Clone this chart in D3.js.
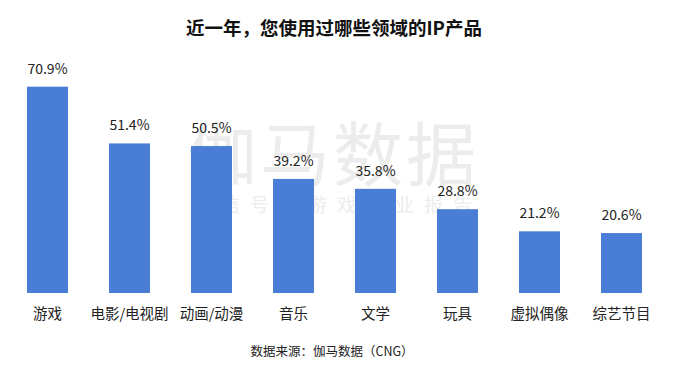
<!DOCTYPE html>
<html><head><meta charset="utf-8">
<script src="https://cdn.jsdelivr.net/npm/d3@7"></script>
<style>html,body{margin:0;padding:0;background:#fff;}svg{display:block;}</style>
</head><body>
<svg id="chart" width="678" height="367"></svg>
<script>
const categories = ["游戏","电影/电视剧","动画/动漫","音乐","文学","玩具","虚拟偶像","综艺节目"];
const values = [70.9, 51.4, 50.5, 39.2, 35.8, 28.8, 21.2, 20.6];
const titleText = "近一年，您使用过哪些领域的IP产品";
const sourceText = "数据来源：伽马数据（CNG）";
const watermarkMain = "伽马数据";
const watermarkSub = "微信号：游戏产业报告";

const svg = d3.select("#chart");
const W = 678, H = 367;
const font = "'Noto Sans CJK SC', 'Noto Sans', sans-serif";

svg.append("rect").attr("width", W).attr("height", H).attr("fill", "#fff");

// watermark
svg.append("text").attr("x", 333).attr("y", 181).attr("text-anchor", "middle")
  .attr("font-family", font).attr("font-size", 70).attr("letter-spacing", 3)
  .attr("fill", "#ececec").text(watermarkMain);
svg.append("text").attr("x", 337).attr("y", 212).attr("text-anchor", "middle")
  .attr("font-family", font).attr("font-size", 19).attr("letter-spacing", 10)
  .attr("fill", "#ececec").text(watermarkSub);

const x = d3.scaleBand().domain(categories).range([6.5, 662.5])
  .paddingInner(0.5).paddingOuter(0.25);
const y = d3.scaleLinear().domain([0, 80]).range([293, 60.2]);

svg.append("text").attr("x", 334).attr("y", 35).attr("text-anchor", "middle")
  .attr("font-family", font).attr("font-size", 18.5).attr("font-weight", "bold")
  .attr("fill", "#111").text(titleText);

svg.selectAll("rect.bar").data(values).join("rect").attr("class", "bar")
  .attr("x", (d, i) => x(categories[i]))
  .attr("width", x.bandwidth())
  .attr("y", d => y(d))
  .attr("height", d => y(0) - y(d))
  .attr("fill", "#4a7dd6");

svg.selectAll("text.val").data(values).join("text").attr("class", "val")
  .attr("x", (d, i) => x(categories[i]) + x.bandwidth() / 2)
  .attr("y", d => y(d) - 13)
  .attr("text-anchor", "middle")
  .attr("font-family", font).attr("font-size", 14)
  .attr("fill", "#222").text(d => d.toFixed(1) + "%");

const xAxis = svg.append("g").attr("transform", "translate(0,293)")
  .call(d3.axisBottom(x).tickSize(0).tickPadding(16));
xAxis.select(".domain").remove();
xAxis.selectAll("text").attr("font-family", font).attr("font-size", 14.5)
  .attr("fill", "#222");

svg.append("text").attr("x", 332).attr("y", 356).attr("text-anchor", "middle")
  .attr("font-family", font).attr("font-size", 12.5)
  .attr("fill", "#222").text(sourceText);
</script>
</body></html>
